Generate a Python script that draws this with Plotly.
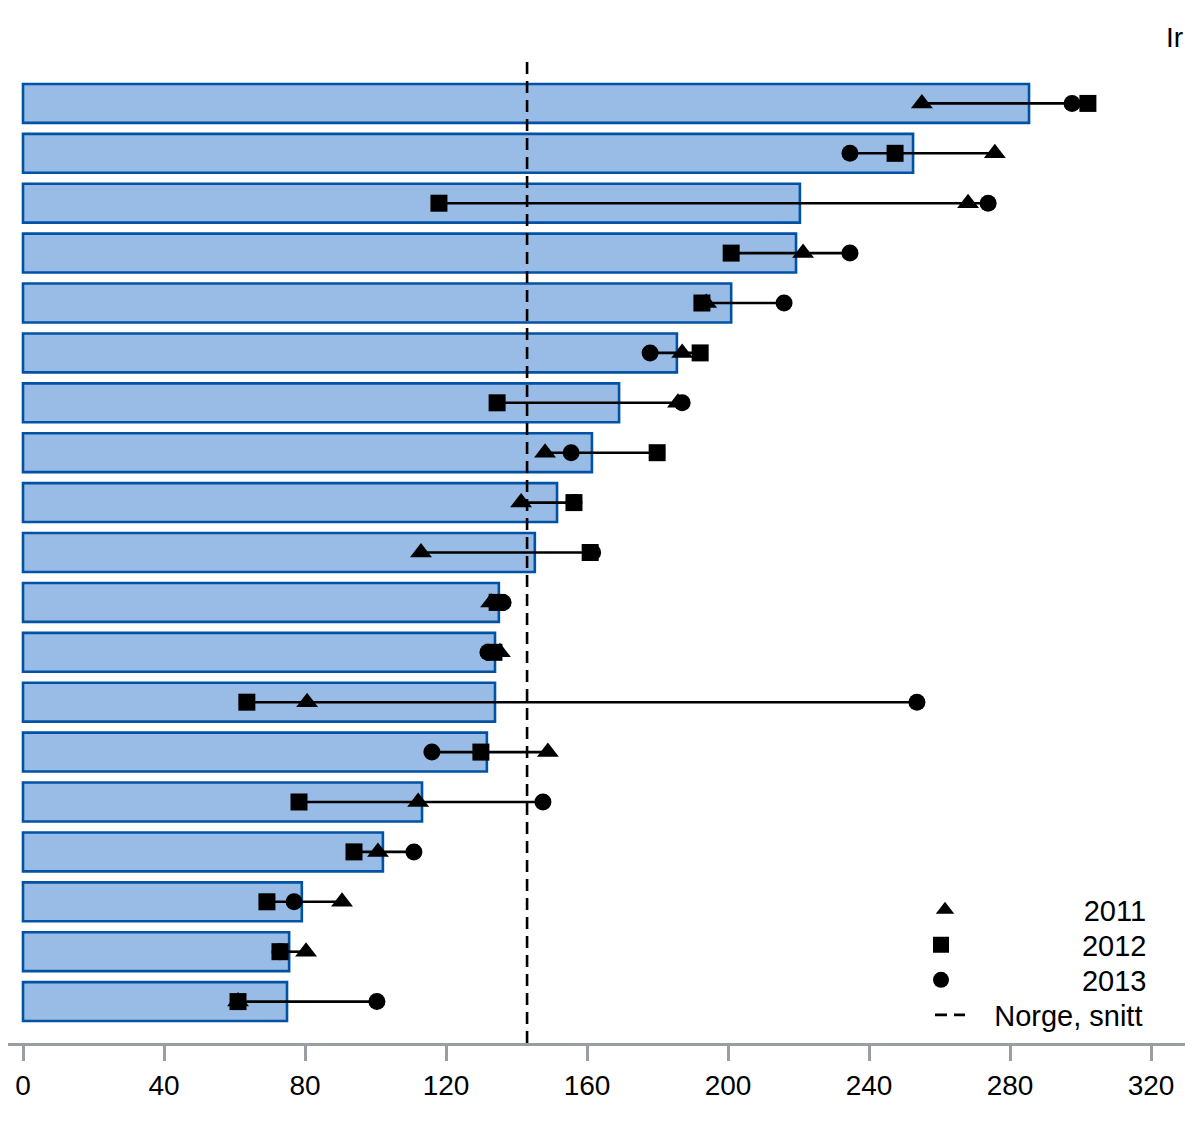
import plotly.graph_objects as go

# Row index (top to bottom); category names are not visible in the reference
rows = list(range(19))
bar_values = [285.4, 252.5, 220.4, 219.3, 200.9, 185.5, 169.1, 161.4, 151.5, 145.2,
              135.0, 133.9, 133.9, 131.6, 113.2, 102.1, 79.1, 75.5, 74.9]
v2011 = [255.0, 275.7, 268.1, 221.3, 193.8, 187.0, 185.8, 148.1, 141.3, 112.9,
         132.8, 135.3, 80.6, 148.9, 112.1, 100.7, 90.5, 80.3, 61.0]
v2012 = [302.1, 247.4, 118.0, 200.9, 192.6, 192.1, 134.5, 179.9, 156.3, 160.9,
         134.5, 133.6, 63.5, 129.9, 78.3, 93.9, 69.2, 72.9, 61.0]
v2013 = [297.6, 234.6, 273.8, 234.6, 215.9, 177.9, 187.0, 155.5, 156.3, 161.6,
         136.2, 131.9, 253.6, 116.0, 147.5, 110.9, 76.9, 72.9, 100.4]
norway_avg = 143.0

FONT = "Liberation Sans, Arial, sans-serif"
FS = "\u2007"   # figure space (digit width)
PS = "\u2008"   # punctuation space
TS = "\u2009"   # thin space
DASH = "12px,7px"

W, H = 1177, 1121
T, B = 54, 86
PLOT_H = H - T - B
PX_PER_UNIT = 3.525
ZERO_PX = 15


def ypaper(fig_y):
    return (H - B - fig_y) / PLOT_H


fig = go.Figure()

fig.add_trace(go.Bar(
    x=bar_values, y=rows, orientation="h", width=0.78,
    marker=dict(color="#98BCE5", line=dict(color="#0052A4", width=2.6)),
    showlegend=False, hoverinfo="skip",
))

# connector lines from min to max per row
lx, ly = [], []
for r, a, b, c in zip(rows, v2011, v2012, v2013):
    lx += [min(a, b, c), max(a, b, c), None]
    ly += [r, r, None]
fig.add_trace(go.Scatter(x=lx, y=ly, mode="lines", line=dict(color="black", width=2.6),
                         showlegend=False, hoverinfo="skip"))

fig.add_trace(go.Scatter(x=v2011, y=rows, mode="markers", name=FS * 7 + TS + "2011",
                         marker=dict(symbol="triangle-up", size=19, color="black"),
                         legend="legend"))
fig.add_trace(go.Scatter(x=v2013, y=rows, mode="markers", name=FS * 7 + PS + "2013",
                         marker=dict(symbol="circle", size=17, color="black"),
                         legend="legend3"))
fig.add_trace(go.Scatter(x=v2012, y=rows, mode="markers", name=FS * 7 + PS + "2012",
                         marker=dict(symbol="square", size=17, color="black"),
                         legend="legend2"))
fig.add_trace(go.Scatter(x=[None], y=[None], mode="lines", name=FS + PS + "Norge, snitt",
                         line=dict(color="black", width=2.6, dash=DASH), legend="legend4"))

fig.add_shape(type="line", x0=norway_avg, x1=norway_avg, y0=0, y1=1,
              xref="x", yref="paper", layer="above",
              line=dict(color="black", width=2.6, dash=DASH))

fig.add_annotation(text="Ir", x=1.0, y=ypaper(29), xref="paper", yref="paper",
                   showarrow=False, xanchor="right", yanchor="middle",
                   font=dict(size=28, color="black", family=FONT))

leg_common = dict(xanchor="left", yanchor="middle", bgcolor="rgba(0,0,0,0)",
                  font=dict(size=29, family=FONT, color="black"), borderwidth=0)

fig.update_layout(
    width=W, height=H,
    margin=dict(l=0, r=0, t=T, b=B),
    plot_bgcolor="white", paper_bgcolor="white",
    font=dict(family=FONT, size=28, color="black"),
    xaxis=dict(range=[-ZERO_PX / PX_PER_UNIT, (W - ZERO_PX) / PX_PER_UNIT],
               tickvals=[0, 40, 80, 120, 160, 200, 240, 280, 320],
               showgrid=False, zeroline=False, showline=True, linecolor="#9A9DA1", linewidth=3,
               ticks="outside", ticklen=15, tickwidth=3, tickcolor="#9A9DA1",
               tickfont=dict(size=28, color="black", family=FONT)),
    yaxis=dict(range=[18.83, -0.83], showticklabels=False, showgrid=False, zeroline=False,
               showline=False, ticks=""),
    legend=dict(x=917 / W, y=ypaper(902), **leg_common),
    legend2=dict(x=913 / W, y=ypaper(937), **leg_common),
    legend3=dict(x=913 / W, y=ypaper(972), **leg_common),
    legend4=dict(x=922 / W, y=ypaper(1007), **leg_common),
    showlegend=True,
)

fig.write_html("out.html")
